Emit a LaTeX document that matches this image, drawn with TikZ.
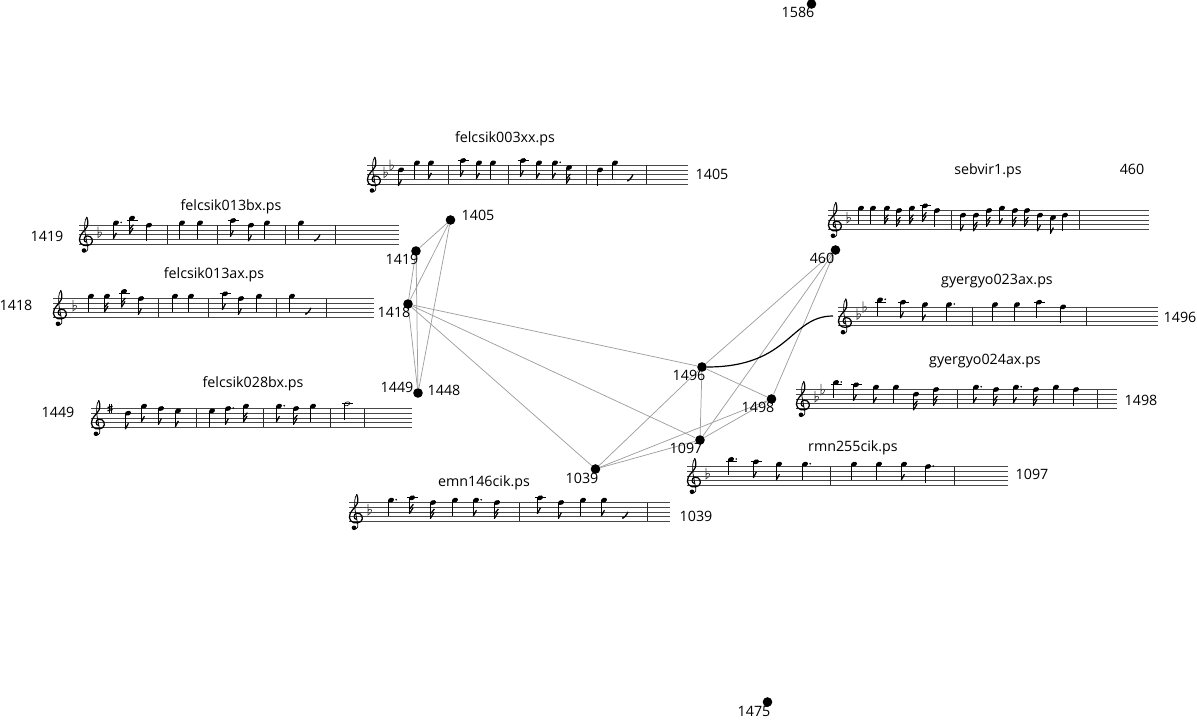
\documentclass[tikz,border=0pt]{standalone}
\usepackage{fontspec}
\setmainfont{Open Sans}
\newcommand\pxgap{4.7}
\tikzset{
  x=0.75pt,y=-0.75pt,
  dot/.style={circle,fill=black,inner sep=0pt,minimum size=7.2pt},
  lbl/.style={inner sep=0pt,font=\fontsize{10.7pt}{12pt}\selectfont,text=black},
  edge/.style={draw=black!38,line width=0.55pt},
  curveedge/.style={draw=black,line width=0.9pt},
  staffline/.style={draw=black!72,line width=0.6pt},
  barline/.style={draw=black!85,line width=0.7pt},
  stem/.style={draw=black,line width=0.5pt},
  flagstroke/.style={draw=black,line width=0.95pt},
  accid/.style={draw=black!75,line width=0.5pt}
}
\newcommand\Head{\fill[rotate=22] (0,0) ellipse [x radius=3.1,y radius=2.3];\draw[stem] (-2.6,0) -- (-2.6,16);}
\newcommand\Noteq{\Head}
\newcommand\Notee{\Head\draw[flagstroke] (-2.7,16) -- (0.4,10);}
\newcommand\Notes{\Head\draw[flagstroke] (-2.7,16) -- (1,10);\draw[flagstroke] (-2.7,11.5) -- (1.4,6.5);}
\newcommand\NoteDot{\fill (5.2,-0.5) circle [radius=0.9];}
\newcommand\Noteqd{\Noteq\NoteDot}
\newcommand\Noteed{\Notee\NoteDot}
\newcommand\Notesd{\Notes\NoteDot}
\newcommand\Noteh{\draw[line width=0.45pt,rotate=22] (0,0) ellipse [x radius=3,y radius=1.8];\draw[stem] (-2.6,0) -- (-2.6,16);}
\newcommand\Noter{\draw[flagstroke] (-2.6,-3) .. controls (-1,-3.5) and (1.5,-6) .. (3,-9.5);
  \fill (-2.2,-3.4) circle [radius=0.8];}
\newcommand\Clef[2]{\begin{scope}[shift={(#1,{#2-\pxgap})}]
  \draw[line width=0.95pt,line cap=round] (0.5,2.8) .. controls (-2.4,2.8) and (-3,-2.8) .. (1,-3.4)
    .. controls (6,-3.8) and (8,2) .. (4.8,5) .. controls (1,7.8) and (-6.6,6.4) .. (-6.6,0.5)
    .. controls (-6.6,-5.5) and (-1,-8) .. (1.2,-13) .. controls (2.4,-16.5) and (1.8,-20) .. (0.8,-22);
  \draw[line width=0.55pt] (0.8,-22) .. controls (-1.6,-19.5) and (-1.8,-13) .. (-1,-7) -- (1.8,8)
    .. controls (2.4,12) and (-1,13.5) .. (-2.5,11.5);
  \fill (-2,11.2) circle [radius=2.3];
\end{scope}}
\newcommand\Flat[3]{\begin{scope}[shift={(#1,{#2-#3*2.35})}]
  \draw[accid] (0,-8) -- (0,3) .. controls (3,1.2) and (4.6,-1.6) .. (2.8,-2.6) .. controls (1.6,-3.1) and (0.6,-2.2) .. (0,-1);
\end{scope}}
\newcommand\Sharp[3]{\begin{scope}[shift={(#1,{#2-#3*2.35})}]
  \draw[line width=0.5pt] (-1,-4.5) -- (-1,4.5) (1.2,-5) -- (1.2,4);
  \draw[line width=0.9pt] (-2.5,-1) -- (2.6,-2.2) (-2.5,2.2) -- (2.6,1);
\end{scope}}
% x left, x right, y of bottom line, bar positions, notes x/step/type
\newcommand\Staff[5]{%
  \foreach \i in {0,...,4} {\draw[staffline] (#1,{#3-\i*\pxgap}) -- (#2,{#3-\i*\pxgap});}
  \foreach \b in {#4} {\draw[barline] (\b,{#3-4*\pxgap}) -- (\b,#3);}
  \Clef{#1+7}{#3}
  \foreach \nx/\np/\nt in {#5} {%
    \pgfmathsetmacro\ny{#3-\np*2.35}
    \ifnum\np>9 \draw[line width=0.5pt] (\nx-5.5,{#3-10*2.35}) -- (\nx+5.5,{#3-10*2.35});\fi
    \begin{scope}[shift={(\nx,\ny)}]\csname Note\nt\endcsname\end{scope}
  }%
}
\begin{document}
\begin{tikzpicture}
\useasboundingbox (0,0) rectangle (1197,721);
% staves
\Staff{367}{688}{184}{448,508,586,646}{401/6/e,417/9/q,431/9/e,463/10/e,479/9/e,493/9/q,523/10/e,539/9/e,555/9/ed,569/7/s,600/6/q,615/9/q}
\Flat{384}{184}{4}\Flat{390}{184}{7}
\begin{scope}[shift={(630,184)}]\Noter\end{scope}
\Staff{79}{399}{244}{167,217,285,335}{116/9/ed,132/11/s,149/8/q,182/9/q,200/9/q,233/10/e,251/8/e,267/9/q,301/9/q}
\Flat{98}{244}{4}
\begin{scope}[shift={(317,244)}]\Noter\end{scope}
\Staff{53}{374}{317.3}{158,208,276,326}{91/9/q,107/9/s,124/11/s,141/8/e,175/9/q,191/9/q,225/10/e,241/8/e,259/9/q,292/9/q}
\Flat{73}{317.3}{4}
\begin{scope}[shift={(308,317.3)}]\Noter\end{scope}
\Staff{91}{412}{427.3}{196,263,330,364}{128/6/e,144/9/e,161/8/e,178/7/e,212/7/q,228/8/ed,246/9/s,279/9/ed,296/8/s,313/9/q,347/10/h}
\Sharp{110}{427.3}{8}
\Staff{349}{670}{521.3}{519,647}{391/9/qd,412/10/s,433/8/s,455/9/q,476/9/ed,497/8/s,540/10/e,561/8/e,583/9/q,604/9/e}
\Flat{368}{521.3}{4}
\begin{scope}[shift={(625,521.3)}]\Noter\end{scope}
\Staff{828}{1149}{229.3}{951,1079}{861/9/q,873/9/q,887/9/s,899/8/s,912/9/s,925/10/s,937/8/q,963/6/e,976/6/s,989/8/s,1002/9/e,1015/8/s,1027/8/s,1040/6/e,1053/5/e,1065/6/q}
\Flat{847}{229.3}{4}
\Staff{838}{1158}{325.7}{972,1086}{880/11/qd,903/10/e,925/9/e,949/9/qd,995/9/q,1017/9/q,1039/10/q,1063/8/q}
\Flat{857}{325.7}{4}\Flat{863}{325.7}{7}
\Staff{796}{1117}{408.3}{957,1097}{836/11/qd,856/10/e,876/9/e,896/9/q,916/6/s,936/8/s,976/9/ed,996/8/s,1016/9/ed,1036/8/s,1056/9/q,1076/8/q}
\Flat{815}{408.3}{4}\Flat{821}{408.3}{7}
\Staff{687}{1008}{485.3}{830,954}{731/11/qd,756/10/e,779/9/e,805/9/qd,854/9/q,879/9/q,904/9/e,928/8/qd}
\Flat{706}{485.3}{4}
% graph nodes
\node[dot] (g1586) at (811.5,4) {};
\node[dot] (g1405) at (450.5,220) {};
\node[dot] (g1419) at (416,251) {};
\node[dot] (g1418) at (408,304) {};
\node[dot] (g1449) at (418,393) {};
\node[dot] (g460) at (835.5,250) {};
\node[dot] (g1496) at (702,367) {};
\node[dot] (g1498) at (771.5,399) {};
\node[dot] (g1097) at (700,440) {};
\node[dot] (g1039) at (595.5,469) {};
\node[dot] (g1475) at (767.5,702) {};
\coordinate (curveend) at (833,316);
% edges
\draw[edge] (g1405) -- (g1419);
\draw[edge] (g1405) -- (g1418);
\draw[edge] (g1405) -- (g1449);
\draw[edge] (g1419) -- (g1418);
\draw[edge] (g1419) -- (g1449);
\draw[edge] (g1418) -- (g1449);
\draw[edge] (g1418) -- (g1496);
\draw[edge] (g1418) -- (g1097);
\draw[edge] (g1418) -- (g1039);
\draw[edge] (g460) -- (g1496);
\draw[edge] (g460) -- (g1097);
\draw[edge] (g460) -- (g1498);
\draw[edge] (g1496) -- (g1039);
\draw[edge] (g1496) -- (g1097);
\draw[edge] (g1496) -- (g1498);
\draw[edge] (g1498) -- (g1039);
\draw[edge] (g1498) -- (g1097);
\draw[edge] (g1097) -- (g1039);
\draw[curveedge] (g1496) .. controls (790,367) and (790,316) .. (curveend);
% labels
\node[lbl] (t1) at (505,138.5) {felcsik003xx.ps};
\node[lbl] (t2) at (231,206.5) {felcsik013bx.ps};
\node[lbl] (t3) at (214,274.5) {felcsik013ax.ps};
\node[lbl] (t4) at (253,383.5) {felcsik028bx.ps};
\node[lbl] (t5) at (484,482.5) {emn146cik.ps};
\node[lbl] (t6) at (988,170.5) {sebvir1.ps};
\node[lbl] (t7) at (997,281.5) {gyergyo023ax.ps};
\node[lbl] (t8) at (985,361.5) {gyergyo024ax.ps};
\node[lbl] (t9) at (853,447.5) {rmn255cik.ps};
\node[lbl] (l1586) at (798,12) {1586};
\node[lbl] (r1405) at (712,174.5) {1405};
\node[lbl] (l1405) at (478,215) {1405};
\node[lbl] (r1419) at (47,236.5) {1419};
\node[lbl] (l1419) at (402,259) {1419};
\node[lbl] (r1418) at (16,305.5) {1418};
\node[lbl] (l1418) at (394,312) {1418};
\node[lbl] (r1449) at (58,412) {1449};
\node[lbl] (l1449) at (397,387) {1449};
\node[lbl] (l1448) at (444,390) {1448};
\node[lbl] (r460) at (1132,169.5) {460};
\node[lbl] (l460) at (822,258) {460};
\node[lbl] (r1496) at (1180,317) {1496};
\node[lbl] (l1496) at (689,375) {1496};
\node[lbl] (r1498) at (1141,400) {1498};
\node[lbl] (l1498) at (758,407) {1498};
\node[lbl] (r1097) at (1032,474) {1097};
\node[lbl] (l1097) at (686,448) {1097};
\node[lbl] (r1039) at (696,516) {1039};
\node[lbl] (l1039) at (582,478) {1039};
\node[lbl] (l1475) at (754,711) {1475};
\end{tikzpicture}
\end{document}
